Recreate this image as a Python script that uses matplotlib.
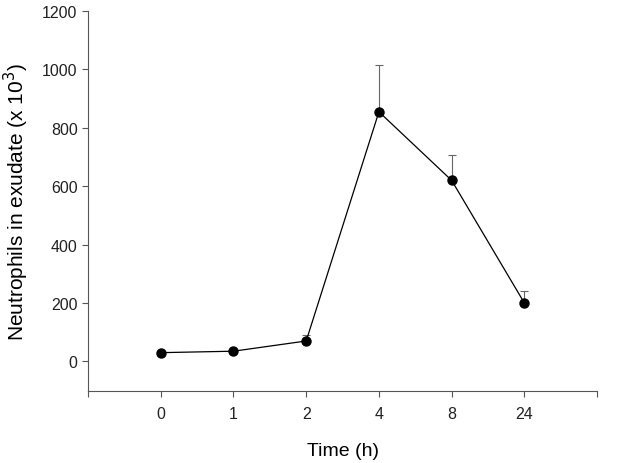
import matplotlib
matplotlib.use('Agg')
import matplotlib.pyplot as plt

plt.rcParams['font.family'] = ['Liberation Sans', 'DejaVu Sans']

# Neutrophil counts in exudate over time
times = ['0', '1', '2', '4', '8', '24']
neutrophils = [30, 35, 70, 855, 620, 200]
err_upper = [3, 4, 20, 160, 88, 42]

fig = plt.figure(figsize=(6.4, 4.64), dpi=100)
ax = fig.add_axes([0.1375, 0.156, 0.7955, 0.818])

pos = list(range(len(times)))
ax.errorbar(pos, neutrophils, yerr=[[0]*len(err_upper), err_upper],
            fmt='none', ecolor='#666666', elinewidth=0.8, capsize=3, capthick=0.8)
ax.plot(pos, neutrophils, color='black', linewidth=0.9,
        marker='o', markersize=6.5, markerfacecolor='black', markeredgecolor='black')

ax.set_xlim(-1, 6)
ax.set_ylim(-100, 1200)
ax.set_xticks([-1] + pos + [6])
ax.set_xticklabels([''] + times + [''])
ax.set_yticks(range(0, 1201, 200))

ax.spines['top'].set_visible(False)
ax.spines['right'].set_visible(False)
for s in ['left', 'bottom']:
    ax.spines[s].set_color('#555555')
    ax.spines[s].set_linewidth(0.8)
ax.tick_params(direction='out', length=4, width=0.8, color='#555555',
               labelsize=11.5, colors='#222222')
ax.tick_params(axis='x', pad=7)

ax.set_xlabel('Time (h)', fontsize=14, labelpad=15)
ax.set_ylabel('Neutrophils in exudate (x 10$^3$)', fontsize=15, labelpad=8)

fig.savefig('out.png', dpi=100)
